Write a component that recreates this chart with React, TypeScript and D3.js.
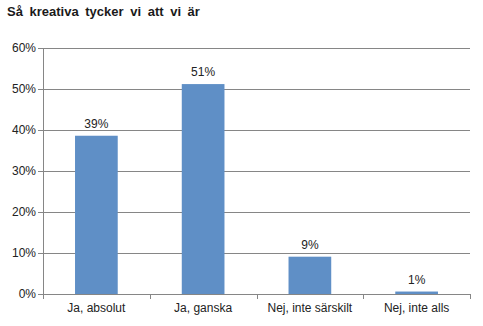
import React from "react";
import * as d3 from "d3";

const categories = ["Ja, absolut", "Ja, ganska", "Nej, inte särskilt", "Nej, inte alls"];
const values = [38.6, 51.2, 9.1, 0.6];
const valueLabels = ["39%", "51%", "9%", "1%"];
const yTicks = [0, 10, 20, 30, 40, 50, 60];
const title = "Så kreativa tycker vi att vi är";

const W = 483;
const H = 326;
const margin = { left: 43, right: 13, top: 48, bottom: 32 };

export default function App() {
  const x = d3
    .scaleBand<string>()
    .domain(categories)
    .range([margin.left, W - margin.right])
    .paddingInner(0.6)
    .paddingOuter(0.3);
  const xb = d3.scaleBand<string>().domain(categories).range([margin.left, W - margin.right]);
  const y = d3.scaleLinear().domain([0, 60]).range([H - margin.bottom, margin.top]);
  const font = "Liberation Sans, Arial, sans-serif";
  const grid = "#868686";
  const y0 = y(0);
  const bounds = [...categories.map((c) => xb(c) as number), W - margin.right];

  return (
    <svg
      width={W}
      height={H}
      style={{ position: "absolute", left: 0, top: 0, background: "#fff" }}
      fontFamily={font}
    >
      <text x={7} y={16} fontSize={13} fontWeight="bold" fill="#1a1a1a" wordSpacing={3}>
        {title}
      </text>
      {yTicks.map((t) => (
        <g key={t}>
          <line x1={margin.left - 5} x2={W - margin.right} y1={Math.round(y(t)) + 0.5} y2={Math.round(y(t)) + 0.5} stroke={grid} strokeWidth={1} />
          <text x={36} y={y(t) + 4} fontSize={12} textAnchor="end" fill="#222">
            {t}%
          </text>
        </g>
      ))}
      <line x1={margin.left + 0.5} x2={margin.left + 0.5} y1={y(60)} y2={y0} stroke={grid} />
      {bounds.map((b, i) => (
        <line key={i} x1={Math.round(b) + 0.5} x2={Math.round(b) + 0.5} y1={y0} y2={y0 + 5} stroke={grid} />
      ))}
      {categories.map((c, i) => (
        <g key={c}>
          <rect
            x={x(c)}
            y={y(values[i])}
            width={x.bandwidth()}
            height={y0 - y(values[i])}
            fill="#5F8FC6"
          />
          <text
            x={(x(c) as number) + x.bandwidth() / 2}
            y={y(values[i]) - 8}
            fontSize={12}
            textAnchor="middle"
            fill="#222"
          >
            {valueLabels[i]}
          </text>
          <text
            x={(x(c) as number) + x.bandwidth() / 2}
            y={312}
            fontSize={12}
            textAnchor="middle"
            fill="#222"
          >
            {c}
          </text>
        </g>
      ))}
    </svg>
  );
}
